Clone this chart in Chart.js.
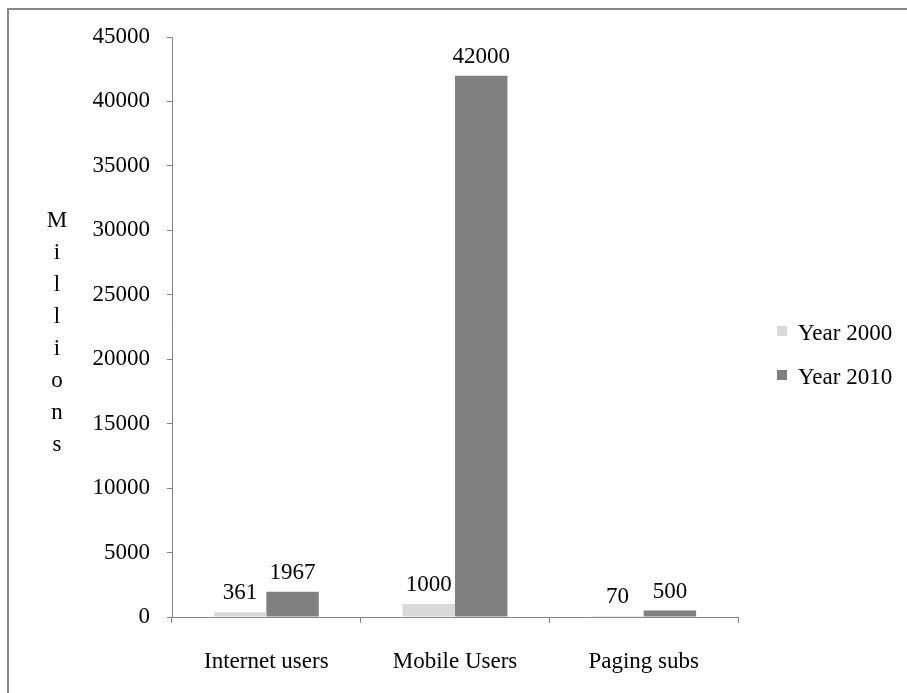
<!DOCTYPE html>
<html>
<head>
<meta charset="utf-8">
<script src="https://cdn.jsdelivr.net/npm/chart.js@4.4.1/dist/chart.umd.min.js"></script>
<style>
  html, body { margin: 0; padding: 0; background: #ffffff; overflow: hidden; }
  #wrap { position: relative; width: 907px; height: 693px; }
  #frame { position: absolute; left: 7px; top: 8px; width: 1200px; height: 1000px;
           border: 2px solid #878787; box-sizing: border-box; pointer-events: none; }
  canvas { position: absolute; left: 0; top: 0; }
</style>
</head>
<body>
<div id="wrap">
  <canvas id="c" width="907" height="693"></canvas>
  <div id="frame"></div>
</div>
<script>
// Subscriber counts (millions)
const categories = ['Internet users', 'Mobile Users', 'Paging subs'];
const year2000 = [361, 1000, 70];
const year2010 = [1967, 42000, 500];
const seriesNames = ['Year 2000', 'Year 2010'];
const axisTitle = 'Millions';
const yMin = 0, yMax = 45000, yStep = 5000;

const FONT = '"Liberation Serif", "Times New Roman", serif';
const AXIS_GREY = '#868686';

// Value labels above each bar
const valueLabels = {
  id: 'valueLabels',
  afterDatasetsDraw(chart) {
    const ctx = chart.ctx;
    ctx.save();
    ctx.font = '23px ' + FONT;
    ctx.fillStyle = '#000000';
    ctx.textAlign = 'center';
    ctx.textBaseline = 'alphabetic';
    chart.data.datasets.forEach((ds, di) => {
      chart.getDatasetMeta(di).data.forEach((bar, i) => {
        ctx.fillText(String(ds.data[i]), bar.x, bar.y - 13);
      });
    });
    ctx.restore();
  }
};

// Stacked (one letter per line) y-axis title
const stackedTitle = {
  id: 'stackedTitle',
  afterDraw(chart) {
    const ctx = chart.ctx;
    const letters = axisTitle.split('');
    const step = 31.9;
    const a = chart.chartArea;
    const cy = (a.top + a.bottom) / 2 + 6;
    const y0 = cy - step * (letters.length - 1) / 2;
    ctx.save();
    ctx.font = '23px ' + FONT;
    ctx.fillStyle = '#000000';
    ctx.textAlign = 'center';
    ctx.textBaseline = 'middle';
    letters.forEach((ch, i) => ctx.fillText(ch, 57, y0 + i * step));
    ctx.restore();
  }
};

// Legend on the right, built from the datasets
const sideLegend = {
  id: 'sideLegend',
  afterDraw(chart) {
    const ctx = chart.ctx;
    const a = chart.chartArea;
    const x = a.right + 39;
    const yMid = (a.top + a.bottom) / 2 + 29;
    const gap = 44;
    const n = chart.data.datasets.length;
    ctx.save();
    ctx.font = '23px ' + FONT;
    ctx.textAlign = 'left';
    ctx.textBaseline = 'middle';
    chart.data.datasets.forEach((ds, i) => {
      const y = yMid + (i - (n - 1) / 2) * gap;
      ctx.fillStyle = ds.backgroundColor;
      ctx.fillRect(x, y - 8, 10, 10);
      ctx.fillStyle = '#000000';
      ctx.fillText(ds.label, x + 21, y);
    });
    ctx.restore();
  }
};

new Chart(document.getElementById('c'), {
  type: 'bar',
  data: {
    labels: categories,
    datasets: [
      { label: seriesNames[0], data: year2000, backgroundColor: '#d9d9d9' },
      { label: seriesNames[1], data: year2010, backgroundColor: '#808080' }
    ]
  },
  options: {
    responsive: false,
    animation: false,
    devicePixelRatio: 1,
    layout: { padding: { top: 37, right: 169, bottom: 0, left: 0 } },
    datasets: { bar: { categoryPercentage: 0.556, barPercentage: 1.0 } },
    plugins: {
      legend: { display: false },
      tooltip: { enabled: false },
      title: { display: false }
    },
    scales: {
      x: {
        offset: true,
        grid: { display: true, drawOnChartArea: false, offset: true, tickLength: 6, color: AXIS_GREY },
        border: { display: true, color: AXIS_GREY, width: 1 },
        ticks: { color: '#000000', font: { family: FONT, size: 23 }, padding: 25, maxRotation: 0 },
        afterFit(scale) { scale.height = 76; }
      },
      y: {
        min: yMin, max: yMax,
        grid: { display: true, drawOnChartArea: false, tickLength: 5, color: AXIS_GREY },
        border: { display: true, color: AXIS_GREY, width: 1 },
        ticks: {
          stepSize: yStep, color: '#000000', font: { family: FONT, size: 23 }, padding: 17,
          callback: (v) => String(v)
        },
        afterFit(scale) { scale.width = 172; }
      }
    }
  },
  plugins: [valueLabels, stackedTitle, sideLegend]
});
</script>
</body>
</html>
